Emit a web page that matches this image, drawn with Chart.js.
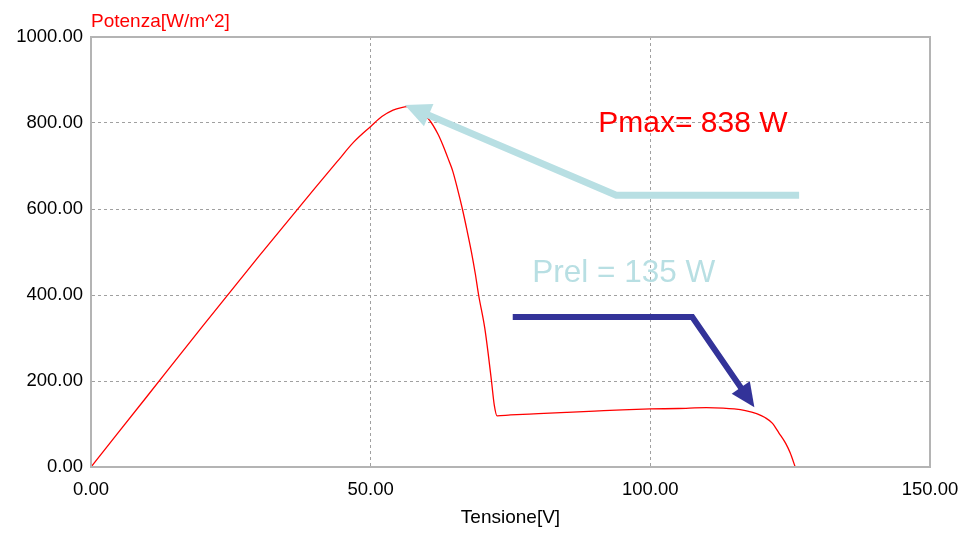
<!DOCTYPE html>
<html>
<head>
<meta charset="utf-8">
<script src="https://cdn.jsdelivr.net/npm/chart.js@4/dist/chart.umd.min.js"></script>
<style>
  html, body { margin: 0; padding: 0; background: #fff; }
  #wrap { width: 958px; height: 533px; }
</style>
</head>
<body>
<div id="wrap"><canvas id="chart" width="958" height="533"></canvas></div>
<script>
// curve: tension [V] and power [W/m^2]
const tensione = [0, 10, 20, 30, 40, 44, 47, 50, 52, 54, 55.5, 56.5, 57.5, 59, 60.5, 62, 62.9, 64, 64.7, 65.5, 66.4, 67.2, 68, 68.7, 69.3, 70.4, 71, 71.6, 72.1, 72.6, 75, 80, 85, 90, 95, 100, 105, 110, 113, 115, 117, 119, 120.5, 121.8, 123, 124.2, 125, 125.9];
const potenza = [0, 164, 328, 490, 648, 710, 756, 792, 815, 830, 836, 838, 835, 825, 807, 775, 749, 712, 687, 648, 600, 552, 501, 450, 400, 323, 265, 200, 144, 119, 121, 124, 127, 130, 133, 135, 136, 138, 137, 135, 131, 124, 115, 102, 79, 55, 33, 0];

const yTicks = [0, 200, 400, 600, 800, 1000];
const xTicks = [0, 50, 100, 150];

// annotation arrows, in data units
const arrowMaxX = [126.6, 93.9, 56.1];
const arrowMaxY = [632, 632, 842];
const arrowRelX = [75.4, 107.5, 118.6];
const arrowRelY = [349, 349, 139];

const labelMax = "Pmax= 838 W";
const labelRel = "Prel = 135 W";

const FONT = "'Liberation Sans', Arial, sans-serif";

function drawArrow(ctx, pts, color, width, headLen, headW) {
  ctx.save();
  ctx.strokeStyle = color;
  ctx.fillStyle = color;
  ctx.lineWidth = width;
  ctx.lineJoin = "miter";
  const n = pts.length;
  const tip = pts[n - 1], prev = pts[n - 2];
  const ang = Math.atan2(tip.y - prev.y, tip.x - prev.x);
  const bx = tip.x - headLen * Math.cos(ang);
  const by = tip.y - headLen * Math.sin(ang);
  ctx.beginPath();
  ctx.moveTo(pts[0].x, pts[0].y);
  for (let i = 1; i < n - 1; i++) ctx.lineTo(pts[i].x, pts[i].y);
  ctx.lineTo(bx + 2 * Math.cos(ang), by + 2 * Math.sin(ang));
  ctx.stroke();
  ctx.beginPath();
  ctx.moveTo(tip.x, tip.y);
  ctx.lineTo(bx + headW / 2 * Math.sin(ang), by - headW / 2 * Math.cos(ang));
  ctx.lineTo(bx - headW / 2 * Math.sin(ang), by + headW / 2 * Math.cos(ang));
  ctx.closePath();
  ctx.fill();
  ctx.restore();
}

const annotations = {
  id: "annotations",
  afterDraw(chart) {
    const { ctx, chartArea, scales } = chart;
    const px = (v) => scales.x.getPixelForValue(v);
    const py = (v) => scales.y.getPixelForValue(v);

    // solid frame round the plot
    ctx.save();
    ctx.strokeStyle = "#b4b4b4";
    ctx.lineWidth = 2;
    ctx.strokeRect(chartArea.left, chartArea.top, chartArea.right - chartArea.left, chartArea.bottom - chartArea.top);
    ctx.restore();

    drawArrow(ctx, arrowMaxX.map((v, i) => ({ x: px(v), y: py(arrowMaxY[i]) })), "#b8dfe3", 7, 26, 24);
    drawArrow(ctx, arrowRelX.map((v, i) => ({ x: px(v), y: py(arrowRelY[i]) })), "#333399", 6, 24, 22);

    ctx.save();
    ctx.textBaseline = "alphabetic";
    ctx.textAlign = "left";
    ctx.font = "30px " + FONT;
    ctx.fillStyle = "#ff0000";
    ctx.fillText(labelMax, px(90.7), py(780));
    ctx.font = "31.5px " + FONT;
    ctx.fillStyle = "#b8dfe3";
    ctx.fillText(labelRel, px(78.9), py(431));

    // y axis title, top left
    ctx.font = "19px " + FONT;
    ctx.fillStyle = "#ff0000";
    ctx.fillText("Potenza[W/m^2]", chartArea.left, 27);
    ctx.restore();
  }
};

new Chart(document.getElementById("chart"), {
  type: "line",
  data: {
    datasets: [{
      data: tensione.map((v, i) => ({ x: v, y: potenza[i] })),
      borderColor: "#ff0000",
      borderWidth: 1.3,
      pointRadius: 0,
      cubicInterpolationMode: "monotone",
      fill: false
    }]
  },
  options: {
    responsive: false,
    animation: false,
    layout: { padding: { top: 37, right: 28, left: 0, bottom: 0 } },
    plugins: { legend: { display: false }, tooltip: { enabled: false } },
    scales: {
      x: {
        type: "linear",
        min: 0,
        max: 150,
        afterBuildTicks: (s) => { s.ticks = xTicks.map((v) => ({ value: v })); },
        afterFit: (s) => { s.height = 66; s.paddingLeft = 0; s.paddingRight = 0; },
        ticks: {
          padding: 12,
          color: "#000",
          font: { family: FONT, size: 18.5 },
          maxRotation: 0,
          callback: (v) => Number(v).toFixed(2)
        },
        grid: { color: "#a0a0a0", drawTicks: false, lineWidth: 1 },
        border: { display: true, color: "#b4b4b4", width: 2, dash: [3, 3] },
        title: {
          display: true,
          text: "Tensione[V]",
          color: "#000",
          font: { family: FONT, size: 19 },
          padding: { top: 0, bottom: 4 }
        }
      },
      y: {
        type: "linear",
        min: 0,
        max: 1000,
        afterBuildTicks: (s) => { s.ticks = yTicks.map((v) => ({ value: v })); },
        afterFit: (s) => { s.width = 91; s.paddingTop = 0; s.paddingBottom = 0; },
        ticks: {
          padding: 8,
          color: "#000",
          font: { family: FONT, size: 18.5 },
          callback: (v) => Number(v).toFixed(2)
        },
        grid: { color: "#a0a0a0", drawTicks: false, lineWidth: 1 },
        border: { display: true, color: "#b4b4b4", width: 2, dash: [3, 3] }
      }
    }
  },
  plugins: [annotations]
});
</script>
</body>
</html>
